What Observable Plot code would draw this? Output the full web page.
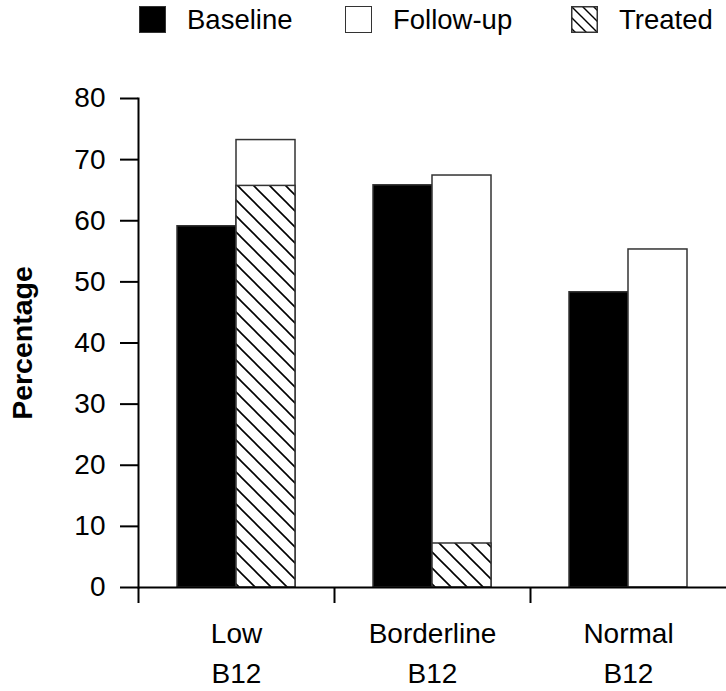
<!DOCTYPE html>
<html><head><meta charset="utf-8">
<script src="https://cdn.jsdelivr.net/npm/d3@7"></script>
<script src="https://cdn.jsdelivr.net/npm/@observablehq/plot@0.6"></script>
<style>
body{margin:0;background:#fff;font-family:"Liberation Sans",Arial,sans-serif;}
#legend{height:60px;position:relative;width:726px;}
.item{position:absolute;top:0;height:39px;display:flex;align-items:center;font-size:27.5px;color:#000;}
.sw{width:27px;height:27px;box-sizing:border-box;border:1.5px solid #333;margin-right:21px;display:block;}
</style></head><body>
<div id="legend"></div><div id="chart"></div>
<script>
const categories = ["Low\nB12", "Borderline\nB12", "Normal\nB12"];
const seriesNames = ["Baseline", "Follow-up"];
const baselineValues = [59.1, 65.8, 48.3];
const followUpValues = [73.2, 67.4, 55.3];
const treatedValues = [65.7, 7.2, null];
const yTicks = [0, 10, 20, 30, 40, 50, 60, 70, 80];
const legendItems = ["Baseline", "Follow-up", "Treated"];

const rows = [];
categories.forEach((c, i) => {
  rows.push({cat: c, series: "Baseline", value: baselineValues[i]});
  rows.push({cat: c, series: "Follow-up", value: followUpValues[i]});
});
const treatedRows = categories
  .map((c, i) => ({cat: c, series: "Follow-up", value: treatedValues[i]}))
  .filter(d => d.value != null);

const W = 726, ML = 138, MR = 0;
const step = (W - ML - MR) / categories.length;

const plot = Plot.plot({
  width: W, height: 631,
  marginLeft: ML, marginRight: MR, marginTop: 38, marginBottom: 104,
  style: {fontFamily: '"Liberation Sans", Arial, sans-serif', fontSize: "28px", color: "#000", background: "#fff"},
  fx: {domain: categories, paddingInner: 0, paddingOuter: 0, label: null, axis: null},
  x: {domain: seriesNames, paddingInner: 0, paddingOuter: 0.64, axis: null},
  y: {domain: [0, 80], label: null, axis: null},
  marks: [
    Plot.barY(rows, {fx: "cat", x: "series", y: "value",
      fill: d => d.series === "Baseline" ? "#000" : "#fff", stroke: "#333", strokeWidth: 1.5}),
    Plot.barY(treatedRows, {fx: "cat", x: "series", y: "value",
      fill: "url(#hatch)", stroke: "#333", strokeWidth: 1.5}),
    Plot.ruleY([0], {stroke: "#000", strokeWidth: 2}),
    Plot.frame({anchor: "left", stroke: "#000", strokeWidth: 2, facetAnchor: "left"}),
    Plot.axisY({ticks: yTicks, tickSize: 18, tickPadding: 15, tickFormat: d => String(d),
      label: null, strokeWidth: 2, fontSize: 28}),
    Plot.axisFx({anchor: "bottom", tickSize: 0, tickPadding: 27, label: null, lineHeight: 1.43, fontSize: 28}),
    Plot.axisFx({anchor: "bottom", tickSize: 16, tickFormat: () => "", dx: -step / 2, label: null, strokeWidth: 2}),
    Plot.text(["Percentage"], {frameAnchor: "left", textAnchor: "middle", rotate: -90, dx: -116, fontWeight: "bold",
      fontSize: 28.5, facetAnchor: "left"})
  ]
});

plot.insertAdjacentHTML("afterbegin",
  '<defs><pattern id="hatch" patternUnits="userSpaceOnUse" width="16" height="16">' +
  '<rect width="16" height="16" fill="#fff"/>' +
  '<path d="M-4,-4L20,20M-4,12L4,20M12,-4L20,4" stroke="#000" stroke-width="1.6"/>' +
  '</pattern></defs>');
document.getElementById("chart").appendChild(plot);

// legend
const legendPos = [139, 345, 571];
const leg = document.getElementById("legend");
legendItems.forEach((name, i) => {
  const it = document.createElement("div");
  it.className = "item";
  it.style.left = legendPos[i] + "px";
  let sw;
  if (name === "Treated") {
    sw = '<svg class="sw" style="border:none" width="27" height="27"><defs><pattern id="hatchL" patternUnits="userSpaceOnUse" width="11" height="11"><rect width="11" height="11" fill="#fff"/><path d="M-3,-3L14,14M-3,8L3,14M8,-3L14,3" stroke="#000" stroke-width="1.4"/></pattern></defs><rect x="0.75" y="0.75" width="25.5" height="25.5" fill="url(#hatchL)" stroke="#333" stroke-width="1.5"/></svg>';
  } else {
    sw = '<span class="sw" style="background:' + (name === "Baseline" ? "#000" : "#fff") + '"></span>';
  }
  it.innerHTML = sw + '<span>' + name + '</span>';
  leg.appendChild(it);
});
</script>
</body></html>
